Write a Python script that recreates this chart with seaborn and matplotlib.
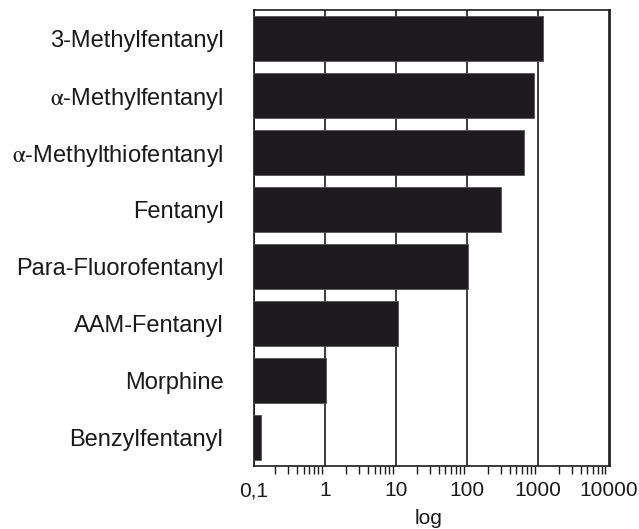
import matplotlib
matplotlib.use('Agg')
import matplotlib.pyplot as plt
import seaborn as sns
from matplotlib.ticker import LogLocator, NullFormatter, FixedLocator, FixedFormatter

substances = ['3-Methylfentanyl', r'$\mathrm{\alpha}$-Methylfentanyl', r'$\mathrm{\alpha}$-Methylthiofentanyl',
              'Fentanyl', 'Para-Fluorofentanyl', 'AAM-Fentanyl', 'Morphine', 'Benzylfentanyl']
potency = [1200, 890, 640, 300, 103, 10.7, 1.02, 0.126]
tick_values = [0.1, 1, 10, 100, 1000, 10000]
tick_labels = ['0,1', '1', '10', '100', '1000', '10000']

sns.set_style('white')
plt.rcParams['font.family'] = ['Liberation Sans', 'DejaVu Sans']
plt.rcParams['mathtext.fontset'] = 'stix'

fig = plt.figure(figsize=(6.39, 5.29), dpi=100)
ax = fig.add_axes([0.3975, 0.119, 0.5575, 0.862])

sns.barplot(x=potency, y=substances, orient='h', color='#1d1b1e', saturation=1,
            width=0.8, edgecolor='#555555', linewidth=0.6, ax=ax, zorder=3)
ax.set_xscale('log')
ax.set_xlim(0.1, 10500)
ax.set_ylim(7.5, -0.5)

ax.xaxis.set_major_locator(FixedLocator(tick_values))
ax.xaxis.set_major_formatter(FixedFormatter(tick_labels))
ax.xaxis.set_minor_locator(LogLocator(base=10, subs=range(2, 10), numticks=20))
ax.xaxis.set_minor_formatter(NullFormatter())
ax.tick_params(axis='x', which='major', length=0, labelsize=15, pad=11, colors='#1a1a1a')
ax.tick_params(axis='x', which='minor', bottom=True, length=6, width=1, direction='out', color='#1a1a1a')
ax.tick_params(axis='y', length=0, labelsize=17, pad=22, colors='#1a1a1a')

ax.grid(axis='x', which='major', color='#1a1a1a', linewidth=1.2, zorder=0)
ax.grid(axis='y', visible=False)
ax.set_axisbelow(True)
for s in ax.spines.values():
    s.set_color('#1a1a1a')
    s.set_linewidth(1.2)

ax.set_ylabel('')
ax.set_xlabel('log', fontsize=15, color='#1a1a1a')
ax.xaxis.set_label_coords(0.49, -0.094)

plt.savefig('out.png', dpi=100)
plt.close(fig)
